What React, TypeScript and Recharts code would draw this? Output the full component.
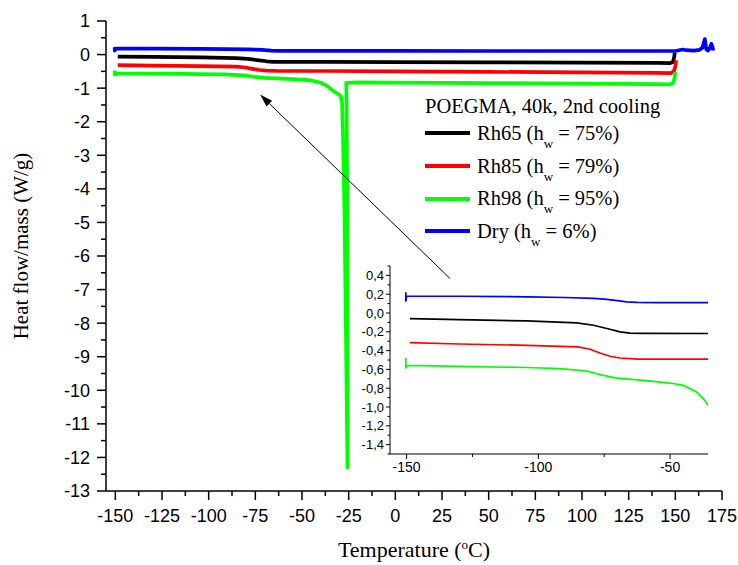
import { LineChart, Line, XAxis, YAxis, ReferenceLine, Legend } from "recharts"

const SANS  = "'Liberation Sans', Arial, sans-serif"
const SERIF = "'Liberation Serif', 'Times New Roman', serif"

// Dry (h_w = 6%)
const dryT  = [-150.3, -150.3, -150, -130, -104, -90, -79, -75, -71.5, -66.5, -62.6, -55, -40, 0, 50, 100, 140, 150, 152, 154, 156, 160, 163, 164.5, 165.8, 166.6, 167.5, 168.5, 169.3, 170, 170.3]
const dryHF = [0.22, 0.12, 0.18, 0.178, 0.172, 0.165, 0.155, 0.147, 0.137, 0.118, 0.112, 0.11, 0.11, 0.108, 0.107, 0.106, 0.106, 0.107, 0.13, 0.15, 0.13, 0.12, 0.14, 0.2, 0.46, 0.15, 0.12, 0.2, 0.32, 0.22, 0.12]

// Rh65 (h_w = 75%)
const rh65T  = [-148.7, -130, -104.4, -85.4, -79.1, -74, -69, -65.2, -60, -36, 0, 50, 100, 140, 147.3, 148.7, 149.3, 149.7]
const rh65HF = [-0.059, -0.07, -0.084, -0.105, -0.13, -0.165, -0.2, -0.215, -0.217, -0.218, -0.225, -0.232, -0.24, -0.25, -0.255, -0.22, -0.1, 0.06]

// Rh85 (h_w = 79%)
const rh85T  = [-148.7, -130, -104.4, -85, -80.4, -76.6, -72.8, -69, -62.3, -36, 0, 50, 100, 140, 147.5, 149.2, 150, 150.5]
const rh85HF = [-0.315, -0.33, -0.344, -0.36, -0.386, -0.425, -0.46, -0.479, -0.49, -0.49, -0.5, -0.515, -0.53, -0.545, -0.55, -0.5, -0.35, -0.17]

// Rh98 (h_w = 95%), crystallisation spike near -26 °C
const rh98T  = [-150.3, -150.3, -150, -125, -104.4, -91.8, -81.6, -75.3, -70.2, -60.1, -50, -44.9, -39.9, -37.4, -35.5, -34, -32, -30, -29.2, -28.6, -28, -27.3, -26.5, -25.8, -25.6, -25.5, -25.7, -26.1, -26.3, -20, 0, 50, 100, 140, 147.3, 148.8, 149.6, 150]
const rh98HF = [-0.475, -0.59, -0.557, -0.57, -0.58, -0.592, -0.617, -0.663, -0.692, -0.717, -0.745, -0.77, -0.84, -0.91, -0.98, -1.05, -1.13, -1.2, -1.25, -1.33, -2.5, -4.5, -8, -11.5, -12.3, -11, -5, -1.5, -0.84, -0.83, -0.835, -0.85, -0.865, -0.88, -0.885, -0.85, -0.7, -0.52]

const seriesNames  = ["Rh65", "Rh85", "Rh98", "Dry"]
const seriesHw     = ["75%", "79%", "95%", "6%"]
const seriesColors = ["#000000", "#ff0000", "#00ff00", "#0000ff"]

// ticks
const mainXMajor  = [-150, -125, -100, -75, -50, -25, 0, 25, 50, 75, 100, 125, 150, 175]
const mainXMinor  = [-137.5, -112.5, -87.5, -62.5, -37.5, -12.5, 12.5, 37.5, 62.5, 87.5, 112.5, 137.5, 162.5]
const mainYMajor  = [1, 0, -1, -2, -3, -4, -5, -6, -7, -8, -9, -10, -11, -12, -13]
const mainYMinor  = [0.5, -0.5, -1.5, -2.5, -3.5, -4.5, -5.5, -6.5, -7.5, -8.5, -9.5, -10.5, -11.5, -12.5]
const insetXMajor = [-150, -100, -50]
const insetXMinor = [-125, -75]
const insetYMajor = [0.4, 0.2, 0, -0.2, -0.4, -0.6, -0.8, -1, -1.2, -1.4]
const insetYMinor = [0.5, 0.3, 0.1, -0.1, -0.3, -0.5, -0.7, -0.9, -1.1, -1.3, -1.5]

const toPoints = (t: number[], hf: number[]) => t.map((x, i) => ({ t: x, hf: hf[i] }))

const series = [
    toPoints(rh65T, rh65HF),
    toPoints(rh85T, rh85HF),
    toPoints(rh98T, rh98HF),
    toPoints(dryT, dryHF),
]

const commaFmt = (v: number) => v.toFixed(1).replace(".", ",")

const xTick = (majors: number[], size: number, majorLen: number, minorLen: number, dy: number, sw: number, fmt: (v: number) => string) =>
    (props: any) => {
        const { x, y, payload } = props
        const major = majors.includes(payload.value)
        return (
            <g>
                <line x1={x} x2={x} y1={y} y2={y + (major ? majorLen : minorLen)} stroke="#000" strokeWidth={sw} />
                {major && (
                    <text x={x} y={y + dy} textAnchor="middle" fontFamily={SANS} fontSize={size} fill="#000">
                        {fmt(payload.value)}
                    </text>
                )}
            </g>
        )
    }

const yTick = (majors: number[], size: number, majorLen: number, minorLen: number, dx: number, sw: number, fmt: (v: number) => string) =>
    (props: any) => {
        const { x, y, payload } = props
        const major = majors.includes(payload.value)
        return (
            <g>
                <line x1={x} x2={x - (major ? majorLen : minorLen)} y1={y} y2={y} stroke="#000" strokeWidth={sw} />
                {major && (
                    <text x={x - dx} y={y + size * 0.36} textAnchor="end" fontFamily={SANS} fontSize={size} fill="#000">
                        {fmt(payload.value)}
                    </text>
                )}
            </g>
        )
    }

const ArrowShape = (p: any) => {
    const { x1, y1, x2, y2 } = p
    const a   = Math.atan2(y2 - y1, x2 - x1)
    const len = 13, half = 4
    const bx  = x2 - len * Math.cos(a)
    const by  = y2 - len * Math.sin(a)
    const pts = `${x2},${y2} ${bx + half * Math.sin(a)},${by - half * Math.cos(a)} ${bx - half * Math.sin(a)},${by + half * Math.cos(a)}`
    return (
        <g>
            <line x1={x1} y1={y1} x2={bx} y2={by} stroke="#000" strokeWidth={1} />
            <polygon points={pts} fill="#000" />
        </g>
    )
}

const LegendBox = () => (
    <div style={{ fontFamily: SERIF, fontSize: 20.5, color: "#000" }}>
        <div style={{ height: 21, lineHeight: "21px", whiteSpace: "nowrap" }}>POEGMA, 40k, 2nd cooling</div>
        {seriesNames.map((n, i) => (
            <div key={n} style={{ height: 32.7, display: "flex", alignItems: "center", whiteSpace: "nowrap" }}>
                <span style={{ display: "inline-block", width: 45, height: 4, background: seriesColors[i], marginRight: 7 }} />
                <span>
                    {n} (h<span style={{ fontSize: 13, position: "relative", top: 8 }}>w</span> = {seriesHw[i]})
                </span>
            </div>
        ))}
    </div>
)

export default function App() {
    return (
        <div style={{ position: "absolute", left: 0, top: 0, width: 738, height: 565, background: "#fff" }}>
            <LineChart width={738} height={565} margin={{ top: 21, right: 16, left: 0, bottom: 0 }}>
                <XAxis
                    type="number"
                    dataKey="t"
                    domain={[-155, 175]}
                    allowDataOverflow
                    ticks={[...mainXMajor, ...mainXMinor].sort((a, b) => a - b)}
                    interval={0}
                    tickSize={0}
                    tickMargin={0}
                    height={74}
                    axisLine={{ stroke: "#000", strokeWidth: 1.5 }}
                    tickLine={false}
                    tick={xTick(mainXMajor, 18, 9, 5, 31, 1.5, v => String(v))}
                    label={{
                        content: () => (
                            <text x={414} y={557} textAnchor="middle" fontFamily={SERIF} fontSize={22} fill="#000">
                                Temperature (<tspan dy={-8} fontSize={13}>o</tspan><tspan dy={8}>C)</tspan>
                            </text>
                        ),
                    }}
                />
                <YAxis
                    type="number"
                    domain={[-13, 1]}
                    allowDataOverflow
                    ticks={[...mainYMajor, ...mainYMinor].sort((a, b) => b - a)}
                    interval={0}
                    tickSize={0}
                    tickMargin={0}
                    width={106}
                    axisLine={{ stroke: "#000", strokeWidth: 1.5 }}
                    tickLine={false}
                    tick={yTick(mainYMajor, 18, 9, 5, 16, 1.5, v => String(v))}
                    label={{
                        content: () => (
                            <text x={21} y={246} transform="rotate(-90 21 246)" textAnchor="middle" dominantBaseline="central" fontFamily={SERIF} fontSize={21} fill="#000">
                                Heat flow/mass (W/g)
                            </text>
                        ),
                    }}
                />
                {series.map((d, i) => (
                    <Line
                        key={seriesNames[i]}
                        data={d}
                        dataKey="hf"
                        name={seriesNames[i]}
                        type="linear"
                        stroke={seriesColors[i]}
                        strokeWidth={3.7}
                        strokeLinejoin="round"
                        dot={false}
                        activeDot={false}
                        isAnimationActive={false}
                    />
                ))}
                <ReferenceLine segment={[{ x: 29.3, y: -6.67 }, { x: -72.5, y: -1.19 }]} shape={ArrowShape} />
                <Legend
                    layout="horizontal"
                    verticalAlign="middle"
                    align="center"
                    content={() => <LegendBox />}
                    wrapperStyle={{ left: 425, top: 96, width: 280, height: 155 }}
                />
            </LineChart>

            <div style={{ position: "absolute", left: 340, top: 255 }}>
                <LineChart width={380} height={225} margin={{ top: 11, right: 12, left: 0, bottom: 0 }}>
                    <XAxis
                        type="number"
                        dataKey="t"
                        domain={[-156.3, -35.6]}
                        allowDataOverflow
                        ticks={[...insetXMajor, ...insetXMinor].sort((a, b) => a - b)}
                        interval={0}
                        tickSize={0}
                        tickMargin={0}
                        height={26}
                        axisLine={{ stroke: "#000", strokeWidth: 1 }}
                        tickLine={false}
                        tick={xTick(insetXMajor, 14, 5, 3, 18, 1, v => String(v))}
                    />
                    <YAxis
                        type="number"
                        domain={[-1.5, 0.5]}
                        allowDataOverflow
                        ticks={[...insetYMajor, ...insetYMinor].sort((a, b) => b - a)}
                        interval={0}
                        tickSize={0}
                        tickMargin={0}
                        width={50}
                        axisLine={{ stroke: "#000", strokeWidth: 1 }}
                        tickLine={false}
                        tick={yTick(insetYMajor, 13, 4, 2.5, 6, 1, commaFmt)}
                    />
                    {series.map((d, i) => (
                        <Line
                            key={seriesNames[i]}
                            data={d}
                            dataKey="hf"
                            type="linear"
                            stroke={seriesColors[i]}
                            strokeWidth={1.7}
                            dot={false}
                            activeDot={false}
                            isAnimationActive={false}
                        />
                    ))}
                </LineChart>
            </div>
        </div>
    )
}
